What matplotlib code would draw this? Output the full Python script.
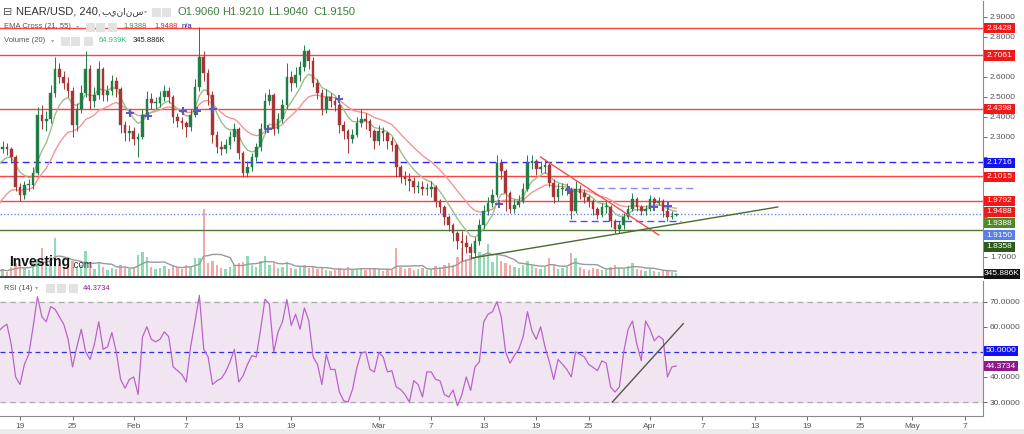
import matplotlib
matplotlib.use('Agg')
import matplotlib.pyplot as plt
import numpy as np
import pandas as pd
from matplotlib.patches import Rectangle
from matplotlib.ticker import FixedFormatter

plt.rcParams['font.family'] = ['Liberation Sans', 'DejaVu Sans']

# ---------------- data (12h candles, days counted from 19 Jan) ----------------
first_day = -2.5
candle_step = 0.5
first_open = 2.23
closes = [2.24, 2.25, 2.24, 2.20, 2.05, 2.01, 2.06, 2.06, 2.12, 2.41,
          2.38, 2.39, 2.52, 2.64, 2.60, 2.57, 2.53, 2.36, 2.44, 2.52,
          2.64, 2.48, 2.51, 2.64, 2.51, 2.53, 2.58, 2.54, 2.36, 2.32,
          2.33, 2.29, 2.30, 2.41, 2.49, 2.47, 2.47, 2.50, 2.53, 2.50,
          2.40, 2.38, 2.37, 2.35, 2.41, 2.55, 2.70, 2.62, 2.51, 2.31,
          2.25, 2.24, 2.26, 2.30, 2.34, 2.22, 2.12, 2.15, 2.20, 2.25,
          2.34, 2.48, 2.51, 2.34, 2.39, 2.46, 2.60, 2.57, 2.61, 2.65,
          2.73, 2.68, 2.57, 2.52, 2.44, 2.50, 2.48, 2.46, 2.36, 2.33,
          2.29, 2.31, 2.37, 2.39, 2.38, 2.33, 2.28, 2.33, 2.32, 2.28,
          2.26, 2.15, 2.10, 2.09, 2.08, 2.05, 2.05, 2.04, 2.04, 2.05,
          1.98, 1.95, 1.90, 1.86, 1.82, 1.78, 1.77, 1.75, 1.72, 1.78,
          1.86, 1.93, 1.97, 2.01, 2.17, 2.13, 2.02, 1.94, 1.96, 1.98,
          2.04, 2.17, 2.18, 2.14, 2.15, 2.16, 2.07, 2.00, 2.04, 2.04,
          2.04, 1.93, 2.04, 2.02, 2.00, 1.98, 1.94, 1.91, 1.95, 1.95,
          1.88, 1.84, 1.86, 1.90, 1.94, 1.99, 1.95, 1.93, 1.94, 1.99,
          1.97, 1.98, 1.93, 1.90, 1.906, 1.915]
highs = [2.27, 2.28, 2.27, 2.25, 2.21, 2.07, 2.08, 2.09, 2.15, 2.45,
         2.46, 2.43, 2.56, 2.70, 2.67, 2.63, 2.60, 2.55, 2.47, 2.56,
         2.73, 2.66, 2.55, 2.68, 2.65, 2.56, 2.61, 2.60, 2.55, 2.38,
         2.36, 2.35, 2.32, 2.44, 2.53, 2.52, 2.50, 2.53, 2.56, 2.55,
         2.51, 2.42, 2.40, 2.38, 2.44, 2.59, 2.85, 2.73, 2.64, 2.53,
         2.33, 2.28, 2.29, 2.33, 2.37, 2.35, 2.23, 2.18, 2.22, 2.27,
         2.37, 2.52, 2.54, 2.52, 2.42, 2.49, 2.67, 2.63, 2.65, 2.68,
         2.76, 2.74, 2.70, 2.59, 2.54, 2.54, 2.52, 2.50, 2.47, 2.38,
         2.34, 2.34, 2.40, 2.44, 2.42, 2.39, 2.34, 2.36, 2.35, 2.33,
         2.30, 2.27, 2.16, 2.13, 2.12, 2.10, 2.08, 2.08, 2.07, 2.08,
         2.06, 1.99, 1.96, 1.91, 1.87, 1.83, 1.83, 1.81, 1.77, 1.80,
         1.89, 1.96, 2.00, 2.04, 2.21, 2.19, 2.14, 2.03, 1.99, 2.01,
         2.07, 2.21, 2.21, 2.19, 2.18, 2.19, 2.17, 2.09, 2.07, 2.07,
         2.07, 2.05, 2.08, 2.06, 2.04, 2.01, 1.99, 1.95, 1.97, 1.98,
         1.96, 1.89, 1.88, 1.92, 1.96, 2.02, 2.00, 1.96, 1.96, 2.01,
         2.00, 2.00, 1.99, 1.94, 1.93, 1.921]
lows = [2.21, 2.22, 2.21, 2.17, 2.03, 1.98, 1.99, 2.03, 2.04, 2.11,
        2.34, 2.33, 2.37, 2.50, 2.57, 2.54, 2.50, 2.30, 2.33, 2.42,
        2.50, 2.44, 2.45, 2.49, 2.48, 2.48, 2.51, 2.50, 2.32, 2.28,
        2.28, 2.26, 2.20, 2.29, 2.39, 2.44, 2.44, 2.45, 2.48, 2.47,
        2.37, 2.35, 2.34, 2.30, 2.33, 2.40, 2.53, 2.58, 2.46, 2.27,
        2.22, 2.21, 2.22, 2.24, 2.28, 2.19, 2.10, 2.10, 2.13, 2.18,
        2.23, 2.32, 2.46, 2.31, 2.32, 2.37, 2.44, 2.53, 2.55, 2.58,
        2.63, 2.64, 2.55, 2.49, 2.41, 2.42, 2.45, 2.43, 2.32, 2.29,
        2.22, 2.27, 2.30, 2.35, 2.34, 2.30, 2.24, 2.26, 2.28, 2.24,
        2.23, 2.10, 2.07, 2.06, 2.03, 2.02, 2.02, 2.01, 2.01, 2.00,
        1.95, 1.92, 1.86, 1.83, 1.78, 1.74, 1.68, 1.72, 1.69, 1.70,
        1.76, 1.84, 1.91, 1.95, 2.00, 2.09, 1.93, 1.92, 1.92, 1.95,
        1.97, 2.03, 2.14, 2.11, 2.12, 2.12, 2.05, 1.97, 1.98, 2.01,
        2.01, 1.89, 1.92, 1.99, 1.97, 1.95, 1.91, 1.89, 1.90, 1.92,
        1.85, 1.82, 1.82, 1.84, 1.89, 1.93, 1.93, 1.91, 1.91, 1.93,
        1.95, 1.96, 1.90, 1.88, 1.89, 1.904]
volumes_k = [180, 240, 150, 300, 420, 360, 270, 210, 450, 540,
             870, 420, 600, 1170, 360, 270, 300, 480, 300, 360,
             780, 420, 240, 450, 300, 210, 270, 240, 360, 270,
             240, 300, 660, 750, 600, 300, 240, 270, 330, 240,
             360, 300, 240, 360, 300, 570, 570, 2040, 420, 480,
             360, 270, 240, 300, 360, 420, 450, 630, 360, 300,
             480, 630, 360, 420, 270, 300, 450, 270, 240, 300,
             360, 270, 300, 240, 270, 210, 180, 210, 270, 240,
             300, 210, 240, 270, 210, 240, 270, 240, 180, 240,
             210, 870, 300, 240, 270, 210, 240, 270, 210, 240,
             330, 300, 360, 420, 360, 600, 870, 540, 660, 600,
             750, 660, 990, 450, 660, 480, 420, 360, 300, 270,
             360, 480, 360, 270, 240, 300, 570, 360, 240, 270,
             300, 720, 570, 300, 240, 210, 270, 240, 210, 240,
             300, 360, 270, 240, 330, 420, 240, 210, 180, 240,
             180, 150, 210, 180, 150, 120]
rsi_values = [58, 59.8, 61, 53, 40, 37, 45, 49, 60, 72,
              64, 62, 68, 67, 64, 61, 55, 44, 52, 59,
              50, 47, 53, 62, 51, 52, 57.7, 50, 39, 35.5,
              39, 40, 33, 56, 60, 55, 54, 55, 58, 56,
              44, 42.5, 41, 38, 52, 62, 72.5, 51, 48, 37,
              38.5, 39.4, 42, 46, 51, 38, 40.5, 45, 48.5, 48,
              59, 71, 69, 50, 58, 62, 70.9, 60.5, 65, 59,
              67.5, 62.5, 48, 45, 37, 49, 43, 43, 34, 30.5,
              30, 35, 43.8, 49.5, 50, 43, 42, 49.7, 48, 42,
              42.5, 36, 35, 33, 30, 38.5, 37, 32, 42, 42,
              39, 38.5, 33, 32, 34.8, 28.5, 33, 40, 34.6, 44,
              46, 62, 65, 66, 70, 64, 50, 45.5, 48.5, 51,
              56, 66, 58.5, 55, 60, 52, 46, 39, 47, 45,
              43, 40, 50, 49, 48, 45, 43.8, 42.5, 46.4, 45.5,
              36, 34, 36, 50, 59, 62.3, 53, 46.5, 62.3, 59,
              54.4, 56.3, 55, 40, 44, 44.3734]
ema21_seed = 2.13
ema55_seed = 1.925

red_levels = [2.8428, 2.7061, 2.4398, 2.1015, 1.9792]
blue_dashed_level = 2.1716
last_price_level = 1.9150
green_level = 1.8358

cross_days = [12.59, 14.65, 18.65, 20.25, 22.08, 28.38, 36.50, 54.69, 62.70, 72.43, 74.03]
cross_prices = [2.4185, 2.4035, 2.4285, 2.4285, 2.4385, 2.3385, 2.4885, 1.9635, 2.0335, 1.9485, 1.9535]

red_trend_days = [59.5, 73.0]
red_trend_prices = [2.198, 1.8085]
green_trend_days = [51.7, 86.6]
green_trend_prices = [1.6935, 1.9485]
rsi_trend_days = [67.7, 75.8]
rsi_trend_values = [30.0, 61.2]
seg_upper_days = [66.0, 76.9]
seg_upper_price = 2.045
seg_lower_days = [62.7, 75.5]
seg_lower_price = 1.879

price_ticks = [1.7, 1.8, 1.9, 2.0, 2.1, 2.2, 2.3, 2.4, 2.5, 2.6, 2.7, 2.8, 2.9]
price_tick_labels = ['1.7000', '', '', '', '', '', '2.3000', '2.4000', '2.5000', '2.6000', '', '2.8000', '2.9000']
rsi_ticks = [30, 40, 50, 60, 70]
rsi_tick_labels = ['30.0000', '40.0000', '', '60.0000', '70.0000']
tick_days = [0, 6, 13, 19, 25, 31, 41, 47, 53, 59, 65, 72, 78, 84, 90, 96, 102, 108]
tick_labels = ['19', '25', 'Feb', '7', '13', '19', 'Mar', '7', '13', '19', '25',
               'Apr', '7', '13', '19', '25', 'May', '7']

# ---------------- figure ----------------
W, H = 1024, 434
fig = plt.figure(figsize=(W / 100, H / 100), dpi=100)
fig.patch.set_facecolor('white')


def rect_px(x0, y0, x1, y1):
    return [x0 / W, 1 - y1 / H, (x1 - x0) / W, (y1 - y0) / H]


def ptext(x, y, s, **kw):
    kw.setdefault('va', 'center')
    kw.setdefault('ha', 'left')
    return fig.text(x / W, 1 - y / H, s, **kw)


def prect(x, y, w, h, fc, z=5):
    r = Rectangle((x / W, 1 - (y + h) / H), w / W, h / H, transform=fig.transFigure,
                  facecolor=fc, edgecolor='none', zorder=z)
    fig.add_artist(r)


XL = (-2.286, 110.06)
n = len(closes)
days = first_day + candle_step * np.arange(n)
c = np.array(closes)
o = np.array([first_open] + closes[:-1])
up = c >= o

# volume axes (behind)
axv = fig.add_axes(rect_px(0, 1, 983, 277))
axv.set_zorder(1)
axv.set_xlim(*XL)
axv.set_ylim(0, 8280)
axv.axis('off')
vcols = np.where(up, '#8fdcb4', '#f5a8a8')
axv.bar(days, volumes_k, width=0.26, color=vcols, linewidth=0)
vma = pd.Series(volumes_k).rolling(7, min_periods=1).mean()
axv.plot(days, vma, color='#9a9a9a', lw=1.0)

# price axes
axp = fig.add_axes(rect_px(0, 1, 983, 277))
axp.set_zorder(2)
axp.patch.set_alpha(0)
axp.set_xlim(*XL)
axp.set_ylim(1.5985, 2.9785)

for lv in red_levels:
    axp.axhline(lv, color='#ff4040', lw=1.0, zorder=1)
axp.axhline(blue_dashed_level, color='#2a2af0', lw=1.0, ls=(0, (5, 3)), zorder=1)
axp.axhline(last_price_level, color='#6b8cf0', lw=1.0, ls=(0, (1, 1.5)), zorder=1)
axp.axhline(green_level, color='#4f7a36', lw=1.0, zorder=1)
axp.plot(seg_upper_days, [seg_upper_price] * 2, color='#8a8af5', lw=1.0, ls=(0, (5, 3)), zorder=1)
axp.plot(seg_lower_days, [seg_lower_price] * 2, color='#5050f0', lw=1.0, ls=(0, (5, 3)), zorder=1)


def ema(vals, span, seed):
    a = 2.0 / (span + 1)
    out, v = [], seed
    for x in vals:
        v += a * (x - v)
        out.append(v)
    return out


axp.plot(days, ema(closes, 18.33, ema55_seed), color='#f79494', lw=1.0, zorder=2)
axp.plot(days, ema(closes, 7, ema21_seed), color='#9dbf8a', lw=1.0, zorder=2)

ccols = np.where(up, '#1f7d45', '#a83535')
axp.vlines(days, lows, highs, colors=ccols, lw=0.7, zorder=3)
axp.bar(days, np.maximum(np.abs(c - o), 0.004), bottom=np.minimum(c, o), width=0.3,
        color=ccols, edgecolor=ccols, linewidth=0.3, zorder=4)

axp.plot(red_trend_days, red_trend_prices, color='#ff4a4a', lw=1.0, zorder=5)
axp.plot(green_trend_days, green_trend_prices, color='#4a6b2e', lw=1.0, zorder=5)
axp.scatter(cross_days, cross_prices, marker='P', s=38, color='#5a5cc0', linewidths=0, zorder=6)

axp.yaxis.tick_right()
axp.set_yticks(price_ticks)
axp.yaxis.set_major_formatter(FixedFormatter(price_tick_labels))
axp.tick_params(axis='y', labelsize=6, colors='#555555', length=3, width=0.6, pad=2)
axp.set_xticks([])
for s in ['top', 'left']:
    axp.spines[s].set_visible(False)
axp.spines['right'].set_color('#8a8a8a')
axp.spines['right'].set_linewidth(0.8)
axp.spines['bottom'].set_color('#333333')
axp.spines['bottom'].set_linewidth(1.3)

# RSI axes
axr = fig.add_axes(rect_px(0, 281, 983, 416))
axr.set_xlim(*XL)
axr.set_ylim(24.44, 78.23)
axr.axhspan(30, 70, color='#f2e5f2', zorder=0)
axr.axhline(70, color='#b0b0b0', lw=1.0, ls=(0, (4, 3)), zorder=1)
axr.axhline(30, color='#b0b0b0', lw=1.0, ls=(0, (4, 3)), zorder=1)
axr.axhline(50, color='#3030e0', lw=0.9, ls=(0, (4, 3)), zorder=1)
axr.plot(days, rsi_values, color='#b865c9', lw=0.9, zorder=2)
axr.plot(rsi_trend_days, rsi_trend_values, color='#555555', lw=1.0, zorder=3)
axr.yaxis.tick_right()
axr.set_yticks(rsi_ticks)
axr.yaxis.set_major_formatter(FixedFormatter(rsi_tick_labels))
axr.tick_params(axis='y', labelsize=6, colors='#555555', length=3, width=0.6, pad=2)
axr.set_xticks(tick_days)
axr.set_xticklabels(tick_labels)
axr.tick_params(axis='x', labelsize=6, colors='#555555', length=3, width=0.6, pad=2)
for s in ['top', 'left']:
    axr.spines[s].set_visible(False)
for s in ['right', 'bottom']:
    axr.spines[s].set_color('#8a8a8a')
    axr.spines[s].set_linewidth(0.8)

# bottom strip
prect(0, 429, 1024, 5, '#ececec', z=0)


# right-axis value boxes
def rbox(y, s, fc, w=31):
    prect(984, y - 5, w, 10, fc, z=5)
    ptext(984 + w / 2, y, s, color='white', fontsize=6, ha='center', zorder=6)


rbox(28.1, '2.8428', '#f01818')
rbox(55.5, '2.7061', '#f01818')
rbox(108.7, '2.4398', '#f01818')
rbox(162.7, '2.1716', '#1414f0')
rbox(176.7, '2.1015', '#f01818')
rbox(200.7, '1.9792', '#f01818')
rbox(211.9, '1.9488', '#f01818')
rbox(223.3, '1.9388', '#4f8a2a')
rbox(235.0, '1.9150', '#5b7fe8')
rbox(246.7, '1.8358', '#2f5a1e')
rbox(273.5, '345.886K', '#111111', w=36)
rbox(351.0, '50.0000', '#1010f5', w=34)
rbox(366.0, '44.3734', '#8e1a8e', w=34)


# header / legends
def icon(x, y):
    prect(x, y - 4.5, 9, 9, '#e2e2e2', z=5)


ptext(3, 12, '\u229f', fontsize=8, color='#555555', family=['DejaVu Sans'])
ptext(16, 12, 'NEAR/USD, 240,', fontsize=8, color='#333333')
ptext(101, 12, '\u0628\u064a\u0646\u0627\u0646\u0633', fontsize=6.5, color='#333333',
      family=['DejaVu Sans'])
ptext(144, 12, '\u25be', fontsize=4.5, color='#aaaaaa', family=['DejaVu Sans'])
icon(152, 12)
icon(162, 12)
for xx, s in [(177, 'O1.9060'), (222, 'H1.9210'), (268, 'L1.9040'), (313, 'C1.9150')]:
    ptext(xx, 12, s, fontsize=8, color='#3f7f3f')

ptext(4, 27, 'EMA Cross (21, 55)', fontsize=5.5, color='#555555')
ptext(76, 27, '\u25be', fontsize=4.5, color='#aaaaaa', family=['DejaVu Sans'])
icon(86, 27)
icon(96, 27)
icon(108, 27)
ptext(123, 27, '1.9388', fontsize=5.5, color='#5a8a30')
ptext(154, 27, '1.9488', fontsize=5.5, color='#e02020')
ptext(182, 27, 'n/a', fontsize=5.5, color='#1a1a8c')

ptext(4, 41, 'Volume (20)', fontsize=5.5, color='#555555')
ptext(51, 41, '\u25be', fontsize=4.5, color='#aaaaaa', family=['DejaVu Sans'])
icon(61, 41)
icon(71, 41)
icon(84, 41)
ptext(99, 41, '64.939K', fontsize=5.5, color='#2ebd72')
ptext(133, 41, '345.886K', fontsize=5.5, color='#222222')

ptext(4, 288, 'RSI (14)', fontsize=5.5, color='#555555')
ptext(35, 288, '\u25be', fontsize=4.5, color='#aaaaaa', family=['DejaVu Sans'])
icon(46, 288)
icon(57, 288)
icon(69, 288)
ptext(83, 288, '44.3734', fontsize=5.5, color='#8e1a9e')

ptext(9, 262, 'Investing', fontsize=10, fontweight='bold', color='#111111', zorder=7)
ptext(71, 265, '.com', fontsize=7, color='#333333', zorder=7)

fig.savefig('out.png', dpi=100, facecolor='white')
